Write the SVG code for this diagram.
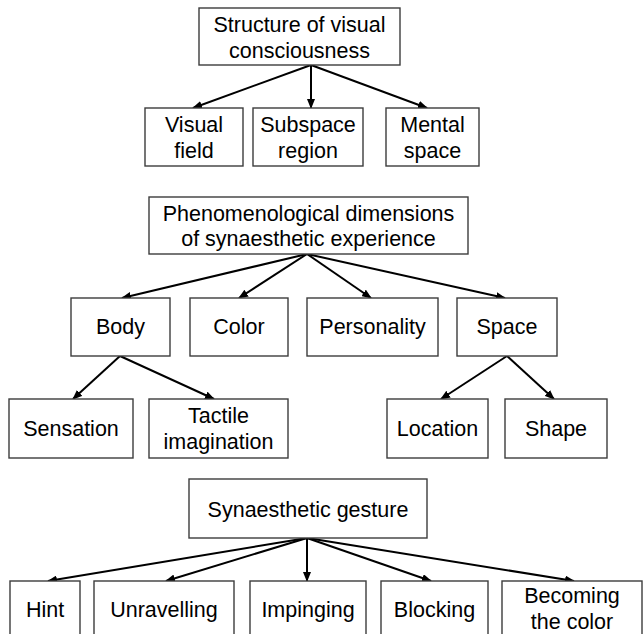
<svg xmlns="http://www.w3.org/2000/svg" width="643" height="634" viewBox="0 0 643 634">
<style>
rect{fill:#fff;stroke:#3c3c3c;stroke-width:1.4}
text{font-family:"Liberation Sans",Arial,sans-serif;font-size:21.5px;fill:#000;text-anchor:middle}
.c line{stroke:#000;stroke-width:2;marker-end:url(#ah)}
</style>
<defs>
<marker id="ah" markerUnits="userSpaceOnUse" markerWidth="10" markerHeight="8" refX="9" refY="4" orient="auto">
<path d="M0,0 L10,4 L0,8 Z" fill="#000"/>
</marker>
</defs>
<rect x="0" y="0" width="643" height="634" style="fill:#fff;stroke:none"/>
<g class="c" id="connectors">
<line x1="311" y1="65" x2="193" y2="108"/>
<line x1="311" y1="65" x2="311" y2="108"/>
<line x1="311" y1="65" x2="427" y2="108"/>
<line x1="307" y1="254" x2="122" y2="298"/>
<line x1="307" y1="254" x2="239" y2="298"/>
<line x1="307" y1="254" x2="371" y2="298"/>
<line x1="307" y1="254" x2="505" y2="298"/>
<line x1="120" y1="356" x2="73" y2="399"/>
<line x1="120" y1="356" x2="214" y2="399"/>
<line x1="507" y1="356" x2="441" y2="399"/>
<line x1="507" y1="356" x2="554" y2="399"/>
<line x1="307" y1="538" x2="48" y2="581"/>
<line x1="307" y1="538" x2="166" y2="581"/>
<line x1="307" y1="538" x2="307" y2="581"/>
<line x1="307" y1="538" x2="431" y2="581"/>
<line x1="307" y1="538" x2="574" y2="581"/>
</g>
<g id="n-structure"><rect x="199" y="8" width="201" height="57"/><text x="299.5" y="31.5">Structure of visual</text><text x="299.5" y="57.5">consciousness</text></g>
<g id="n-visual"><rect x="145" y="108" width="98" height="58"/><text x="194" y="132">Visual</text><text x="194" y="158">field</text></g>
<g id="n-subspace"><rect x="253" y="108" width="110" height="58"/><text x="308" y="132">Subspace</text><text x="308" y="158">region</text></g>
<g id="n-mental"><rect x="386" y="108" width="93" height="58"/><text x="432.5" y="132">Mental</text><text x="432.5" y="158">space</text></g>
<g id="n-phenom"><rect x="149" y="197" width="319" height="57"/><text x="308.5" y="220.5">Phenomenological dimensions</text><text x="308.5" y="246">of synaesthetic experience</text></g>
<g id="n-body"><rect x="71" y="298" width="99" height="58"/><text x="120.5" y="334">Body</text></g>
<g id="n-color"><rect x="190" y="298" width="98" height="58"/><text x="239" y="334">Color</text></g>
<g id="n-personality"><rect x="307" y="298" width="131" height="58"/><text x="372.5" y="334">Personality</text></g>
<g id="n-space"><rect x="457" y="298" width="100" height="58"/><text x="507" y="334">Space</text></g>
<g id="n-sensation"><rect x="9" y="399" width="124" height="59"/><text x="71" y="436">Sensation</text></g>
<g id="n-tactile"><rect x="149" y="399" width="139" height="59"/><text x="218.5" y="422.5">Tactile</text><text x="218.5" y="448.5">imagination</text></g>
<g id="n-location"><rect x="387" y="399" width="101" height="59"/><text x="437.5" y="436">Location</text></g>
<g id="n-shape"><rect x="505" y="399" width="102" height="59"/><text x="556" y="436">Shape</text></g>
<g id="n-gesture"><rect x="189" y="479" width="238" height="59"/><text x="308" y="516.5">Synaesthetic gesture</text></g>
<g id="n-hint"><rect x="10" y="581" width="70" height="60"/><text x="45" y="617">Hint</text></g>
<g id="n-unravelling"><rect x="94" y="581" width="140" height="60"/><text x="164" y="617">Unravelling</text></g>
<g id="n-impinging"><rect x="250" y="581" width="116" height="60"/><text x="308" y="617">Impinging</text></g>
<g id="n-blocking"><rect x="381" y="581" width="107" height="60"/><text x="434.5" y="617">Blocking</text></g>
<g id="n-becoming"><rect x="502" y="581" width="140" height="60"/><text x="572" y="603">Becoming</text><text x="572" y="629">the color</text></g>
</svg>
